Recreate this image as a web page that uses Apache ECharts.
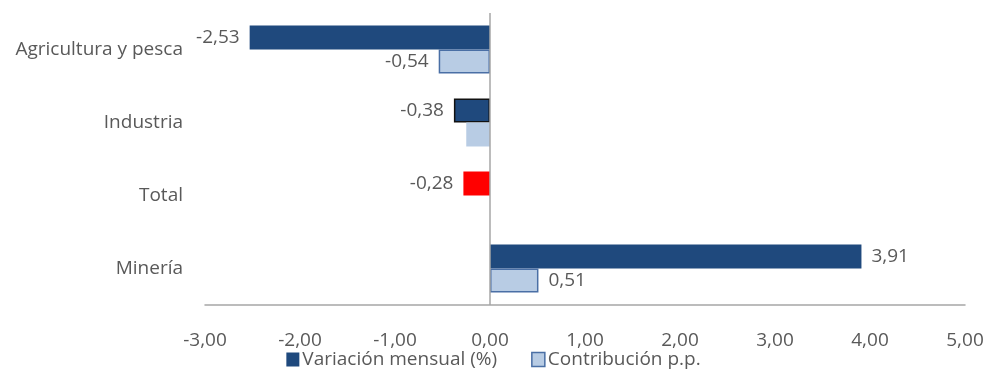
<!DOCTYPE html>
<html>
<head>
<meta charset="utf-8">
<script src="https://cdn.jsdelivr.net/npm/echarts@6/dist/echarts.min.js"></script>
<style>
  html, body { margin: 0; padding: 0; background: #fff; }
  #chart { width: 987px; height: 374px; }
</style>
</head>
<body>
<div id="chart"></div>
<script>
var categories = ['Agricultura y pesca', 'Industria', 'Total', 'Minería']
var variacion = [-2.53, -0.38, -0.28, 3.91]
var contribucion = [-0.54, -0.25, null, 0.51]
// which contribucion values carry a label in the original
var contribLabel = [true, false, false, true]

var textColor = '#595959'
var darkBlue = '#1f497d'
var lightBlue = '#b8cce4'
var fontSize = 19

function fmt(v) {
  return v.toFixed(2).replace('.', ',')
}

var myChart = echarts.init(document.getElementById('chart'))

var varData = variacion.map(function (v, i) {
  var item = {
    value: v,
    label: { position: v < 0 ? 'left' : 'right' }
  }
  if (categories[i] === 'Total') {
    item.itemStyle = { color: '#ff0000' }
  }
  if (categories[i] === 'Industria') {
    item.itemStyle = { borderColor: '#111', borderWidth: 1.5 }
  }
  return item
})

var contribData = contribucion.map(function (v, i) {
  if (v === null) return '-'
  return {
    value: v,
    label: { show: contribLabel[i], position: v < 0 ? 'left' : 'right' },
    itemStyle: contribLabel[i] ? { borderColor: '#4a6fa5', borderWidth: 1.5 } : {}
  }
})

var option = {
  animation: false,
  textStyle: { fontFamily: 'Open Sans' },
  grid: { left: 205, right: 22, top: 13, bottom: 69 },
  legend: {
    bottom: 0,
    left: 'center',
    icon: 'rect',
    itemWidth: 13,
    itemHeight: 14,
    itemGap: 34,
    textStyle: { color: textColor, fontSize: fontSize, fontFamily: 'Open Sans', padding: [0, 0, 0, -2] },
    data: [
      { name: 'Variación mensual (%)', itemStyle: { color: darkBlue } },
      { name: 'Contribución p.p.', itemStyle: { color: lightBlue, borderColor: '#4a6fa5', borderWidth: 1.5 } }
    ]
  },
  xAxis: {
    type: 'value',
    min: -3,
    max: 5,
    interval: 1,
    axisLine: { show: true, onZero: false, lineStyle: { color: '#a6a6a6', width: 1.5 } },
    axisTick: { show: false },
    splitLine: { show: false },
    axisLabel: {
      color: textColor,
      fontSize: fontSize,
      margin: 26,
      formatter: function (v) { return fmt(v) }
    }
  },
  yAxis: {
    type: 'category',
    inverse: true,
    data: categories,
    axisLine: { show: false },
    axisTick: { show: false },
    axisLabel: { color: textColor, fontSize: fontSize, margin: 22 }
  },
  series: [
    {
      name: 'Variación mensual (%)',
      type: 'bar',
      barWidth: 24,
      barGap: '0%',
      itemStyle: { color: darkBlue },
      label: {
        show: true,
        color: textColor,
        fontSize: fontSize,
        distance: 10,
        formatter: function (p) { return fmt(p.value) }
      },
      markLine: {
        silent: true,
        symbol: 'none',
        label: { show: false },
        lineStyle: { color: '#a6a6a6', type: 'solid', width: 1.5 },
        data: [{ xAxis: 0 }]
      },
      data: varData
    },
    {
      name: 'Contribución p.p.',
      type: 'bar',
      barWidth: 24,
      barGap: '0%',
      itemStyle: { color: lightBlue },
      label: {
        color: textColor,
        fontSize: fontSize,
        distance: 10,
        formatter: function (p) { return fmt(p.value) }
      },
      data: contribData
    }
  ]
}

myChart.setOption(option)
</script>
</body>
</html>
